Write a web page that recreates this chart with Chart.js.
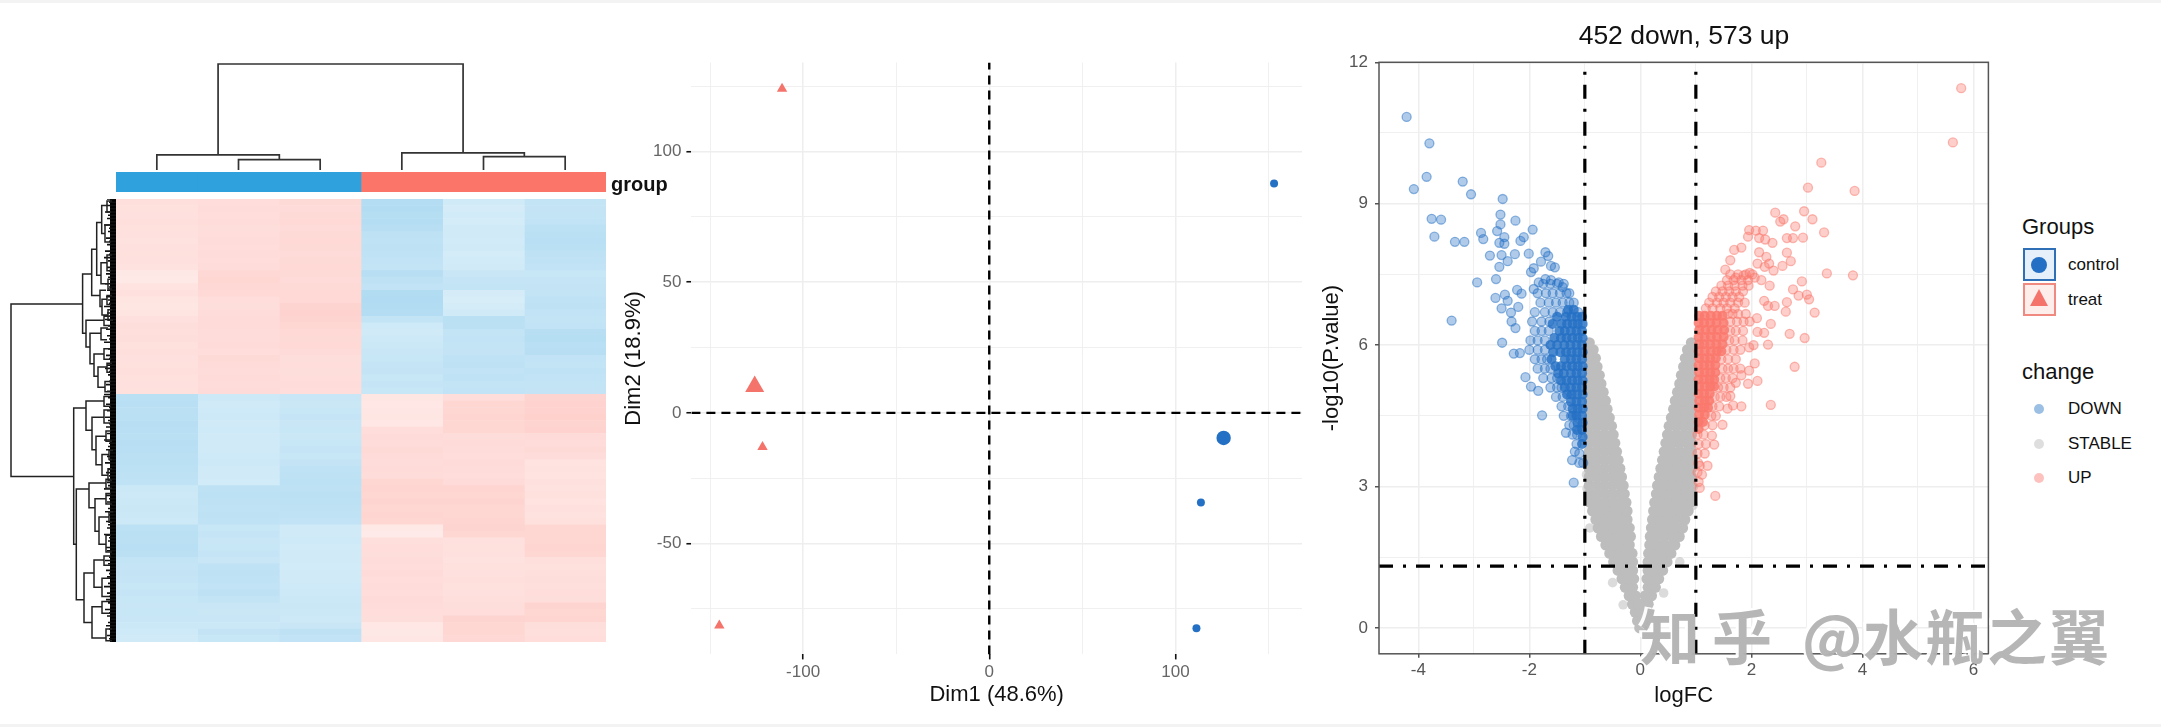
<!DOCTYPE html>
<html>
<head>
<meta charset="utf-8">
<script src="https://cdn.jsdelivr.net/npm/chart.js@4"></script>
<style>
  html, body { margin: 0; padding: 0; background: #fff; overflow: hidden; }
  body { width: 2161px; height: 727px; position: relative; font-family: "Liberation Sans", Arial, sans-serif; color: #111; }
  canvas { position: absolute; display: block; }
  .strip { position: absolute; left: 0; width: 2161px; height: 3px; background: #f3f3f3; }
  .txt { position: absolute; white-space: nowrap; line-height: 1; }
  .box { position: absolute; left: 2023px; width: 29px; height: 29px; border-width: 2px; border-style: solid; }
  .dot { position: absolute; border-radius: 50%; }
  .wm { position: absolute; top: 601px; font: 700 60px "Noto Sans CJK SC", sans-serif; color: rgba(178,178,178,.95); text-shadow: -3px -2px 0 rgba(255,255,255,.95); white-space: nowrap; line-height: 1.1; }
</style>
</head>
<body>
<div class="strip" style="top:0"></div>
<div class="strip" style="bottom:0"></div>

<canvas id="topTree" style="left:106px;top:55px" width="510" height="116"></canvas>
<canvas id="groupBar" style="left:116px;top:172px" width="490" height="20"></canvas>
<canvas id="leftTree" style="left:5px;top:199px" width="111" height="443"></canvas>
<canvas id="heat" style="left:116px;top:199px" width="490" height="443"></canvas>
<canvas id="pca" style="left:617px;top:33px" width="703" height="679"></canvas>
<canvas id="volcano" style="left:1315px;top:32px" width="695" height="681"></canvas>

<div class="txt" style="left:611px;top:174px;font-size:20px;font-weight:700">group</div>
<div class="txt" style="left:1684px;top:22px;font-size:26.5px;transform:translateX(-50%)">452 down, 573 up</div>

<div class="txt" style="left:2022px;top:216px;font-size:22px">Groups</div>
<div class="box" style="top:248px;border-color:#2f6fb5;background:#e6f0fa"></div>
<div class="dot" style="left:2031px;top:257px;width:16px;height:16px;background:#2470c4"></div>
<div class="txt" style="left:2068px;top:256px;font-size:17px">control</div>
<div class="box" style="top:283px;border-color:#f08a80;background:#fdeeec"></div>
<div style="position:absolute;left:2030px;top:289px;width:18px;height:17px;background:#f4736b;clip-path:polygon(50% 0,100% 100%,0 100%)"></div>
<div class="txt" style="left:2068px;top:291px;font-size:17px">treat</div>
<div class="txt" style="left:2022px;top:361px;font-size:22px">change</div>
<div class="dot" style="left:2034px;top:404px;width:10px;height:10px;background:rgba(36,112,196,.45)"></div>
<div class="txt" style="left:2068px;top:400px;font-size:17px">DOWN</div>
<div class="dot" style="left:2034px;top:439px;width:10px;height:10px;background:rgba(190,190,190,.5)"></div>
<div class="txt" style="left:2068px;top:435px;font-size:17px">STABLE</div>
<div class="dot" style="left:2034px;top:473px;width:10px;height:10px;background:rgba(250,120,108,.45)"></div>
<div class="txt" style="left:2068px;top:469px;font-size:17px">UP</div>

<div class="wm" style="left:1640px;letter-spacing:12px">知乎</div>
<div class="wm" style="left:1802px">@</div>
<div class="wm" style="left:1863px;letter-spacing:2px">水瓶之翼</div>

<script>
const FONT = "'Liberation Sans', Arial, sans-serif";
const BLUE = "#2470c4";
const RED = "#f4736b";

// heatmap, one array per sample, hundredths of the colour scale, rows top to bottom
const heatC1 = [22,21,20,22,21,20,19,20,21,20,19,12,11,18,20,16,15,16,20,23,22,23,21,22,20,21,22,21,20,21,
  -36,-37,-35,-36,-38,-37,-36,-38,-37,-35,-36,-34,-33,-32,-24,-23,-24,-25,-24,-23,-34,-36,-35,-37,-35,-30,-28,-29,-28,-27,-28,-27,-26,-27,-26,-24,-22,-21];
const heatC2 = [24,25,24,25,23,24,25,24,25,24,25,29,30,29,28,24,23,25,26,26,25,25,26,24,27,26,25,26,25,26,
  -23,-21,-22,-23,-21,-22,-20,-21,-20,-22,-23,-21,-20,-19,-33,-34,-33,-32,-33,-32,-27,-28,-26,-27,-28,-26,-32,-33,-32,-31,-33,-30,-26,-25,-26,-24,-29,-27];
const heatC3 = [27,26,27,28,26,27,28,27,26,27,28,27,26,27,28,28,33,34,33,30,28,27,28,26,23,24,23,24,25,24,
  -26,-25,-27,-28,-26,-27,-25,-27,-28,-27,-29,-32,-33,-34,-33,-35,-34,-33,-32,-31,-21,-20,-22,-19,-21,-20,-19,-21,-20,-22,-23,-24,-25,-24,-23,-26,-33,-31];
const heatT1 = [-40,-41,-39,-40,-38,-33,-32,-33,-32,-31,-30,-38,-33,-31,-42,-43,-41,-40,-30,-22,-21,-23,-24,-26,-27,-28,-29,-27,-28,-27,
  15,13,14,15,13,24,26,25,27,26,25,26,25,31,32,30,33,31,32,30,11,10,22,24,23,25,24,26,24,25,24,26,25,24,23,13,12,14];
const heatT2 = [-20,-17,-19,-18,-20,-21,-19,-20,-18,-19,-20,-26,-28,-30,-17,-16,-18,-20,-36,-35,-30,-31,-30,-29,-32,-33,-31,-32,-30,-31,
  24,30,31,32,30,31,25,26,25,24,26,25,24,26,32,31,33,30,31,32,33,31,20,21,20,19,21,20,22,21,20,22,23,24,33,31,30,29];
const heatT3 = [-30,-29,-30,-31,-34,-36,-37,-36,-33,-32,-31,-27,-28,-29,-30,-32,-33,-31,-30,-31,-38,-39,-37,-38,-31,-30,-32,-31,-30,-29,
  33,35,34,36,33,34,26,25,27,25,18,19,18,20,19,21,18,20,19,21,30,31,30,32,31,22,21,22,23,22,24,23,33,31,32,23,22,24];
const groupColors = ["#2fa1dd", "#2fa1dd", "#2fa1dd", "#fb7669", "#fb7669", "#fb7669"];

// column dendrogram: [x left, height left, x right, height right, height of the join]
const topBrackets = [
  [1.5, 0, 2.5, 0, 9.8],
  [0.5, 0, 2, 9.8, 14.3],
  [4.5, 0, 5.5, 0, 12.7],
  [3.5, 0, 5, 12.7, 16.2],
  [1.25, 14.3, 4.25, 16.2, 100],
];

// row dendrogram: [height, row a, child height a, row b, child height b]
const leftBrackets = [
  [105,16.1,33.4,42.6,42.3],
  [33.4,11.5,24.3,20.6,30],[24.3,7.7,19.3,14.8,16],[19.3,3.6,14.3,11.7,15],[14.3,1,9,5.3,11],
  [9,.3,4,2,5],[11,4,6,6.6,5],[15,9.8,9,13,8],[9,8.6,4,11,5],[8,12.3,5,13.8,4],
  [16,14,10,16.5,14],[14,15.4,9,17.8,8],[9,14.8,4,16.2,5],[8,17,4,18.6,3],
  [30,18.6,12,22.7,26],[12,18,6,19.4,5],[26,20.6,15,25.3,22],[15,19.8,8,21.6,9],[22,23.8,12,27.2,18],
  [12,23,6,24.6,5],[18,25.8,9,28.9,11],[9,25.2,4,26.6,5],[11,28,5,29.6,5],
  [42.3,32.1,30,53,39.7],[30,31,12,35.5,24],[12,30.3,6,31.8,5],[24,33.5,12,38.5,20],[12,32.4,6,34.4,5],
  [20,36.4,10,40.8,14],[10,35.6,5,37.2,4],[14,39.2,7,42.4,8],[7,38.6,3,40,4],[8,41.4,4,43.2,4],
  [39.7,44.5,27,61.5,32],[27,43.6,10,47.4,21],[10,43,5,44.4,4],[21,46,10,51,17],[10,45.2,5,46.8,4],
  [17,48.8,7,53,10],[7,48,3,49.6,4],[10,51.6,5,54.2,4],
  [32,57.4,22,65,24],[22,55.4,12,59.6,14],[12,54.8,5,56.2,6],[14,58.2,6,61,7],[24,62.6,14,67.4,10],
  [14,61.8,6,63.6,6],[10,66,4,67.8,4],
];
// how far the leaves reach from the heatmap, two per row
const leafReach = [9,7,10,6,11,8,9,6,12,7,8,6,10,7,9,5,11,7,12,8,6,9,7,10,8,6,11,7,9,6,
  10,8,7,12,6,9,7,11,5,8,10,6,9,7,12,6,8,5,10,7,6,9,11,7,8,6,7,10,5,9,
  12,8,6,10,7,9,6,11,8,7,10,6,9,5,12,7,8,10,6,9,7,11,6,8,10,7,5,9,8,12,
  6,10,7,9,5,8,11,7,6,10,8,9,6,12,7,8,5,10,9,6,7,11,8,6,10,7,9,5,8,12,
  6,9,7,10,8,6,11,7,9,5,8,10,7,6,9,7];

// PCA scores
const pcaTreat = [{x:-111.3,y:124},{x:-121.8,y:-13.1},{x:-145,y:-81.3}];
const pcaTreatCenter = [{x:-126,y:10.1}];
const pcaControl = [{x:153,y:87.7},{x:113.7,y:-34.3},{x:111.3,y:-82.4}];
const pcaControlCenter = [{x:125.9,y:-9.6}];

// volcano, outlying points as [logFC, -log10 P]
const downPoints = [[-4.21,10.84],[-3.8,10.28],[-3.85,9.57],[-4.08,9.31],[-3.2,9.47],[-3.05,9.2],[-2.48,9.1],[-3.76,8.68],[-3.59,8.66],[-3.71,8.3],
  [-3.34,8.19],[-3.17,8.19],[-2.52,8.77],[-2.25,8.64],[-2.52,8.56],[-2.58,8.42],[-2.87,8.38],[-2.83,8.25],[-2.45,8.29],[-1.94,8.45],
  [-2.1,8.29],[-2.16,8.21],[-2.54,8.17],[-2.45,8.15],[-2.71,7.9],[-2.5,7.91],[-2.26,7.93],[-2.39,7.78],[-2.01,7.94],[-2.54,7.66],
  [-2.94,7.33],[-2.6,7.4],[-2.22,7.17],[-2.14,7.09],[-2.61,7],[-2.44,7.07],[-2.39,6.94],[-2.5,6.78],[-2.2,6.81],[-2.33,6.69],
  [-3.4,6.52],[-2.32,6.5],[-2.25,6.36],[-2.49,6.05],[-2.28,5.82],[-2.17,5.83],[-2.07,5.32],[-1.97,5.12],[-1.84,5.03],[-1.77,4.51],
  [-1.2,3.08],[-1.23,3.56],[-1.18,3.74],[-1.34,4.14],[-1.71,7.97],[-1.66,7.89],[-1.79,7.77],[-1.92,7.63],[-1.97,7.55],[-1.61,7.68],
  [-1.54,7.65],[-1.83,7.33],[-1.71,7.4],[-1.61,7.38],[-1.47,7.33],[-1.4,7.23],[-1.92,7.19]];
// rows of the busy part: first number is -log10 P, the rest logFC
const downRows = [[7.3,-1.75,-1.62,-1.5,-1.38],[7.1,-1.85,-1.7,-1.58,-1.45,-1.33,-1.28],[6.9,-1.8,-1.65,-1.52,-1.4,-1.28,-1.2],
  [6.7,-1.9,-1.72,-1.58,-1.45,-1.32,-1.12],[6.5,-1.95,-1.78,-1.64],[6.3,-1.9,-1.78,-1.65],[6.1,-1.98,-1.85,-1.72],
  [5.9,-2,-1.85,-1.72],[5.7,-1.9,-1.78,-1.68],[5.5,-1.85,-1.72,-1.62],[5.3,-1.75,-1.6,-1.5],[5.1,-1.62,-1.5,-1.42],
  [4.9,-1.52,-1.4],[4.7,-1.42,-1.3],[4.5,-1.38,-1.25],[4.3,-1.28,-1.2],
  [4.1,-1.22,-1.14],[3.9,-1.15],[3.7,-1.1],[3.5,-1.1,-1.03]];
const downCoreRows = [[6.75,-1.2,-1.3],[6.6,-1.05,-1.14,-1.24,-1.34,-1.5],[6.45,-1.04,-1.13,-1.22,-1.32,-1.42,-1.58],[6.3,-1.05,-1.15,-1.25,-1.36,-1.46],
  [6.15,-1.04,-1.13,-1.23,-1.33,-1.43,-1.55],[6,-1.05,-1.15,-1.26,-1.37,-1.5,-1.62],[5.85,-1.04,-1.14,-1.24,-1.34,-1.44,-1.57],[5.7,-1.05,-1.15,-1.25,-1.36,-1.6],
  [5.55,-1.04,-1.13,-1.23,-1.33,-1.43,-1.53],[5.4,-1.05,-1.15,-1.25,-1.38,-1.48],[5.25,-1.04,-1.13,-1.23,-1.33,-1.43],[5.1,-1.05,-1.15,-1.25,-1.36],
  [4.95,-1.04,-1.14,-1.24,-1.32],[4.8,-1.05,-1.15,-1.25],[4.65,-1.04,-1.13,-1.22],[4.5,-1.05,-1.15,-1.22],[4.35,-1.04,-1.13],[4.2,-1.05,-1.14],[4.05,-1.04],[3.9,-1.05]];

const upPoints = [[5.78,11.45],[5.63,10.3],[3.26,9.87],[3.02,9.34],[3.86,9.27],[2.95,8.84],[3.1,8.67],[2.43,8.81],[2.58,8.67],[2.52,8.62],
  [2.79,8.52],[3.31,8.39],[1.96,8.44],[2.08,8.43],[2.21,8.43],[1.94,8.3],[2.14,8.27],[2.25,8.24],[2.64,8.27],[2.75,8.27],
  [2.93,8.28],[2.38,8.17],[1.82,8.07],[1.69,8.02],[2.14,7.97],[2.64,7.96],[1.62,7.8],[1.53,7.6],[2.27,7.87],[2.32,7.73],
  [2.71,7.78],[2.56,7.68],[2.11,7.73],[2.24,7.66],[2.4,7.58],[3.36,7.52],[3.83,7.48],[1.86,7.48],[1.72,7.43],[1.97,7.53],
  [2.06,7.43],[2.18,7.38],[2.33,7.26],[2.91,7.35],[2.75,7.18],[2.85,7.05],[3,7.07],[3.04,6.97],[3.14,6.69],[2.64,6.91],
  [2.62,6.71],[2.23,6.94],[2.3,6.83],[2.42,6.83],[2.1,6.57],[2.35,6.45],[2.11,6.28],[2.23,6.26],[2.69,6.24],[2.96,6.15],
  [2.04,6],[2.3,6.01],[1.96,5.95],[2.78,5.54],[2.06,5.61],[1.96,5.46],[1.82,5.36],[2.11,5.24],[1.94,5.18],[1.72,5.2],
  [2.35,4.73],[1.82,4.7],[1.62,4.92],[1.67,4.72],[1.57,4.65],[1.48,4.31],[1.29,4.08],[1.33,3.89],[1.21,3.44],[1.35,2.8],
  [1.07,2.97],[1.11,3.25],[1.07,3.44]];
const upRows = [[7.5,1.62,1.76,1.9,2.02],[7.38,1.56,1.68,1.82,1.94],[7.26,1.46,1.58,1.7,1.84,1.95],[7.14,1.36,1.48,1.6,1.72,1.85],[7.02,1.3,1.42,1.54,1.66,1.78],
  [6.9,1.24,1.38,1.5,1.62,1.76,1.88],[6.78,1.18,1.3,1.44,1.56,1.7],[6.66,1.58,1.66,1.76,1.9],[6.5,1.62,1.74,1.86,1.97],[6.3,1.62,1.72,1.85],[6.1,1.6,1.7,1.84],[5.9,1.55,1.68,1.8],[5.7,1.46,1.58,1.72],
  [5.5,1.48,1.58,1.68,1.8],[5.3,1.44,1.54,1.66],[5.1,1.4,1.5,1.62],[4.9,1.34,1.44,1.55],[4.7,1.3,1.42],[4.5,1.28,1.36],
  [4.3,1.16,1.3],[4.1,1.03,1.14],[3.9,1.05,1.18],[3.7,1.03,1.16],[3.5,1.04],[3.3,1.03],[3.1,1.05]];
const upCoreRows = [[6.62,1.06,1.16,1.27,1.38,1.48],[6.47,1.05,1.15,1.26,1.37,1.5],[6.32,1.06,1.17,1.28,1.39,1.51],[6.17,1.05,1.16,1.27,1.38,1.5],
  [6.02,1.06,1.15,1.26,1.37,1.48],[5.87,1.05,1.16,1.27,1.38,1.46],[5.72,1.06,1.16,1.26,1.36],[5.57,1.05,1.15,1.25,1.35],[5.42,1.06,1.16,1.26,1.35],
  [5.27,1.05,1.15,1.25,1.33],[5.12,1.06,1.16,1.26,1.33],[4.97,1.05,1.15,1.25],[4.82,1.06,1.16,1.24],[4.67,1.05,1.15,1.22],[4.52,1.06,1.16],[4.37,1.05,1.13],[4.22,1.05]];

// STABLE band, same row layout, one row per -log10 P level
const stableRows = [[0,-.01,.02],[.15,-.05,.05],[.33,-.09,-.02,.03,.09],[.5,-.14,-.03,.03,.14],[.68,-.2,-.09,.09,.2],[.86,-.27,-.14,.14,.27],
  [1.04,-.33,-.21,-.12,.12,.21,.33],[1.22,-.4,-.27,-.14,.14,.27,.4],[1.4,-.48,-.34,-.2,-.14,.14,.2,.34,.48],[1.58,-.55,-.41,-.27,-.15,.15,.27,.41,.55],
  [1.76,-.62,-.48,-.34,-.2,.17,.3,.44,.58,.62],[1.94,-.7,-.56,-.42,-.28,-.18,.18,.3,.44,.58,.7],[2.12,-.76,-.62,-.48,-.34,-.2,.2,.34,.48,.62,.76],
  [2.3,-.8,-.66,-.52,-.38,-.24,.22,.36,.5,.64,.8],[2.48,-.86,-.72,-.58,-.44,-.3,-.24,.24,.3,.44,.58,.72,.86],[2.66,-.9,-.76,-.62,-.48,-.34,-.26,.26,.38,.52,.66,.78,.9],
  [2.84,-.92,-.78,-.64,-.5,-.36,-.29,.29,.42,.56,.7,.82,.92],[3.02,-.92,-.78,-.64,-.5,-.36,-.31,.31,.38,.52,.66,.8,.92],[3.2,-.92,-.79,-.66,-.52,-.4,-.34,.34,.44,.58,.72,.84,.92],
  [3.38,-.92,-.78,-.64,-.5,-.37,.37,.5,.64,.78,.92],[3.56,-.92,-.8,-.66,-.52,-.4,.4,.54,.68,.82,.92],[3.74,-.92,-.78,-.64,-.5,-.43,.43,.56,.7,.84,.92],
  [3.92,-.92,-.8,-.67,-.54,-.46,.46,.58,.72,.86,.92],[4.1,-.92,-.78,-.64,-.49,.49,.64,.78,.92],[4.28,-.92,-.8,-.66,-.52,.52,.66,.8,.92],
  [4.46,-.92,-.78,-.66,-.56,.56,.68,.8,.92],[4.64,-.92,-.8,-.7,-.6,.6,.7,.8,.92],[4.82,-.92,-.78,-.63,.63,.78,.92],[5,-.92,-.8,-.67,.67,.8,.92],
  [5.18,-.92,-.82,-.71,.71,.82,.92],[5.36,-.92,-.83,-.74,.74,.83,.92],[5.54,-.92,-.84,-.78,.78,.85,.92],[5.72,-.92,-.81,.81,.92],[5.9,-.92,-.85,.85,.92],[6.05,-.92,.92]];
const stableLoose = [[-.81,2.71],[-.91,2.12],[-.97,3.25],[-.7,2.31],[-.6,1.82],[.71,1.4],[.8,2.26],[.42,.74],[-.5,.96],[-.31,.49],[-.96,2.95],[.95,2.6],[.96,3]];

const cutLogFC = [-1, 1];
const cutP = 1.31;

// heatmap colours go from white to the group colours, squeezed a bit round the usual value
const heatColor = (v) => {
  const t = 0.27 + (Math.abs(v) / 100 - 0.27) * 0.7;
  const c = v < 0 ? [47, 161, 221] : [251, 118, 105];
  return `rgb(${c.map((k) => Math.round(255 - (255 - k) * t)).join(",")})`;
};
const rowsToPoints = (rows) => rows.flatMap((r) => r.slice(1).map((x) => ({ x: x, y: r[0] })));
const pairsToPoints = (pairs) => pairs.map((p) => ({ x: p[0], y: p[1] }));

const baseOptions = {
  responsive: false,
  animation: false,
  events: [],
  plugins: { legend: { display: false }, tooltip: { enabled: false } },
};
const gap = { x: NaN, y: NaN };

const bareScale = (min, max, reverse) => ({ type: "linear", display: false, min: min, max: max, reverse: !!reverse });

// heat cells, stacked bars of one unit per sample
const heatColumns = [heatC1, heatC2, heatC3, heatT1, heatT2, heatT3];
new Chart(document.getElementById("heat"), {
  type: "bar",
  data: {
    labels: heatC1.map((v, i) => i),
    datasets: heatColumns.map((col) => ({
      data: col.map(() => 1),
      backgroundColor: col.map(heatColor),
      borderWidth: 0,
      barPercentage: 1,
      categoryPercentage: 1,
    })),
  },
  options: {
    ...baseOptions,
    indexAxis: "y",
    scales: {
      x: { display: false, stacked: true, min: 0, max: 6 },
      y: { display: false, stacked: true },
    },
  },
});

new Chart(document.getElementById("groupBar"), {
  type: "bar",
  data: {
    labels: ["group"],
    datasets: groupColors.map((c) => ({ data: [1], backgroundColor: c, borderWidth: 0, barPercentage: 1, categoryPercentage: 1 })),
  },
  options: {
    ...baseOptions,
    indexAxis: "y",
    scales: {
      x: { display: false, stacked: true, min: 0, max: 6 },
      y: { display: false, stacked: true },
    },
  },
});

// column dendrogram
const topPath = topBrackets.flatMap((b) => [
  { x: b[0], y: b[1] }, { x: b[0], y: b[4] }, { x: b[2], y: b[4] }, { x: b[2], y: b[3] }, gap,
]);
new Chart(document.getElementById("topTree"), {
  type: "scatter",
  data: { datasets: [{ data: topPath, showLine: true, borderColor: "#333", borderWidth: 1.7, pointRadius: 0, clip: false, spanGaps: false }] },
  options: {
    ...baseOptions,
    layout: { padding: { left: 10, right: 10, top: 9, bottom: 1 } },
    scales: { x: bareScale(0, 6), y: bareScale(0, 100) },
  },
});

// row dendrogram
const leftPath = leftBrackets.flatMap((b) => [
  { x: b[2], y: b[1] }, { x: b[0], y: b[1] }, { x: b[0], y: b[3] }, { x: b[4], y: b[3] }, gap,
]);
const leafPath = leafReach.flatMap((h, i) => [{ x: 0, y: i / 2 }, { x: h, y: i / 2 }, gap]);
new Chart(document.getElementById("leftTree"), {
  type: "scatter",
  data: {
    datasets: [
      { data: leftPath, showLine: true, borderColor: "#222", borderWidth: 1.5, pointRadius: 0, spanGaps: false },
      { data: leafPath, showLine: true, borderColor: "#111", borderWidth: 1.6, pointRadius: 0, spanGaps: false },
      { data: [{ x: 3, y: 0 }, { x: 3, y: 68 }], showLine: true, borderColor: "#000", borderWidth: 6, pointRadius: 0 },
    ],
  },
  options: { ...baseOptions, scales: { x: bareScale(0, 111, true), y: bareScale(0, 68, true) } },
});

// plain rectangle round the plot area
const panelBorder = {
  id: "panelBorder",
  afterDatasetsDraw(chart) {
    const a = chart.chartArea;
    const c = chart.ctx;
    c.save();
    c.strokeStyle = "#555";
    c.lineWidth = 1.5;
    c.strokeRect(a.left, a.top, a.right - a.left, a.bottom - a.top);
    c.restore();
  },
};

const axisTitle = (text, top, bottom) => ({
  display: true,
  text: text,
  color: "#111",
  font: { family: FONT, size: 22 },
  padding: { top: top, bottom: bottom },
});
const tickFont = { family: FONT, size: 17 };

// PCA
const cutLine = (pts) => ({
  data: pts, showLine: true, borderColor: "#000", borderWidth: 2.4, borderDash: [9, 6], pointRadius: 0,
});
new Chart(document.getElementById("pca"), {
  type: "scatter",
  data: {
    datasets: [
      cutLine([{ x: -160, y: 0 }, { x: 168, y: 0 }]),
      cutLine([{ x: 0, y: -92.4 }, { x: 0, y: 134 }]),
      { data: pcaTreat, pointStyle: "triangle", pointRadius: 6, backgroundColor: RED, borderWidth: 0 },
      { data: pcaTreatCenter, pointStyle: "triangle", pointRadius: 11, backgroundColor: RED, borderWidth: 0 },
      { data: pcaControl, pointStyle: "circle", pointRadius: 4, backgroundColor: BLUE, borderWidth: 0 },
      { data: pcaControlCenter, pointStyle: "circle", pointRadius: 7.2, backgroundColor: BLUE, borderWidth: 0 },
    ],
  },
  options: {
    ...baseOptions,
    layout: { padding: { top: 29.5, right: 18 } },
    scales: {
      x: {
        type: "linear", min: -160, max: 168,
        afterFit(s) { s.height = 57.6; },
        title: axisTitle("Dim1 (48.6%)", 0, 4),
        border: { display: false },
        grid: {
          color: "#eeeeee",
          lineWidth: (ctx) => (ctx.tick && ctx.tick.value % 100 === 0 ? 1.5 : 0.9),
          tickColor: (ctx) => (ctx.tick && ctx.tick.value % 100 === 0 ? "#111" : "rgba(0,0,0,0)"),
          tickWidth: 1.6,
          tickLength: 5,
        },
        ticks: {
          stepSize: 50, includeBounds: false, autoSkip: false, maxRotation: 0, padding: 3,
          color: "#666", font: tickFont,
          callback: (v) => (v % 100 === 0 ? v : ""),
        },
      },
      y: {
        type: "linear", min: -92.4, max: 134,
        afterFit(s) { s.width = 74.4; },
        title: axisTitle("Dim2 (18.9%)", 4, 0),
        border: { display: false },
        grid: {
          color: "#eeeeee",
          lineWidth: (ctx) => (ctx.tick && ctx.tick.value % 50 === 0 ? 1.5 : 0.9),
          tickColor: (ctx) => (ctx.tick && ctx.tick.value % 50 === 0 ? "#111" : "rgba(0,0,0,0)"),
          tickWidth: 1.6,
          tickLength: 5,
        },
        ticks: {
          stepSize: 25, includeBounds: false, autoSkip: false, padding: 5,
          color: "#666", font: tickFont,
          callback: (v) => (v % 50 === 0 ? v : ""),
        },
      },
    },
  },
});

// volcano
const dotDash = (pts) => ({
  data: pts, showLine: true, borderColor: "#000", borderWidth: 3.2, borderDash: [14, 10, 3, 10], pointRadius: 0,
});
const ringed = (pts, rgb) => ({
  data: pts, pointRadius: 4.5, backgroundColor: `rgba(${rgb},.36)`, borderColor: `rgba(${rgb},.5)`, borderWidth: 1.3,
});
new Chart(document.getElementById("volcano"), {
  type: "scatter",
  data: {
    datasets: [
      dotDash([{ x: cutLogFC[0], y: -0.55 }, { x: cutLogFC[0], y: 12 }]),
      dotDash([{ x: cutLogFC[1], y: -0.55 }, { x: cutLogFC[1], y: 12 }]),
      dotDash([{ x: -4.708, y: cutP }, { x: 6.27, y: cutP }]),
      { data: rowsToPoints(downCoreRows), pointRadius: 5, backgroundColor: "rgba(36,112,196,.82)", borderWidth: 0 },
      { data: rowsToPoints(upCoreRows), pointRadius: 5, backgroundColor: "rgba(250,120,108,.85)", borderWidth: 0 },
      ringed(pairsToPoints(downPoints), "36,112,196"),
      ringed(rowsToPoints(downRows), "36,112,196"),
      ringed(pairsToPoints(upPoints), "250,120,108"),
      ringed(rowsToPoints(upRows), "250,120,108"),
      { data: rowsToPoints(stableRows), pointRadius: 5.6, backgroundColor: "#bdbdbd", borderWidth: 0 },
      { data: pairsToPoints(stableLoose), pointRadius: 4.8, backgroundColor: "rgba(190,190,190,.55)", borderWidth: 0 },
    ],
  },
  plugins: [panelBorder],
  options: {
    ...baseOptions,
    layout: { padding: { top: 30.3, right: 21.6 } },
    scales: {
      x: {
        type: "linear", min: -4.708, max: 6.27,
        afterFit(s) { s.height = 59.2; },
        title: axisTitle("logFC", 0, 4),
        border: { display: false },
        grid: {
          color: "#eeeeee",
          lineWidth: (ctx) => (ctx.tick && ctx.tick.value % 2 === 0 ? 1.5 : 0.9),
          tickColor: (ctx) => (ctx.tick && ctx.tick.value % 2 === 0 ? "#555" : "rgba(0,0,0,0)"),
          tickLength: 4,
        },
        ticks: {
          stepSize: 1, includeBounds: false, autoSkip: false, maxRotation: 0, padding: 2,
          color: "#555", font: tickFont,
          callback: (v) => (v % 2 === 0 ? v : ""),
        },
      },
      y: {
        type: "linear", min: -0.55, max: 12,
        afterFit(s) { s.width = 64; },
        title: axisTitle("-log10(P.value)", 4, 0),
        border: { display: false },
        grid: {
          color: "#eeeeee",
          lineWidth: (ctx) => (ctx.tick && ctx.tick.value % 3 === 0 ? 1.5 : 0.9),
          tickColor: (ctx) => (ctx.tick && ctx.tick.value % 3 === 0 ? "#555" : "rgba(0,0,0,0)"),
          tickLength: 4,
        },
        ticks: {
          stepSize: 1.5, includeBounds: false, autoSkip: false, padding: 7,
          color: "#555", font: tickFont,
          callback: (v) => (v % 3 === 0 ? v : ""),
        },
      },
    },
  },
});
</script>
</body>
</html>
